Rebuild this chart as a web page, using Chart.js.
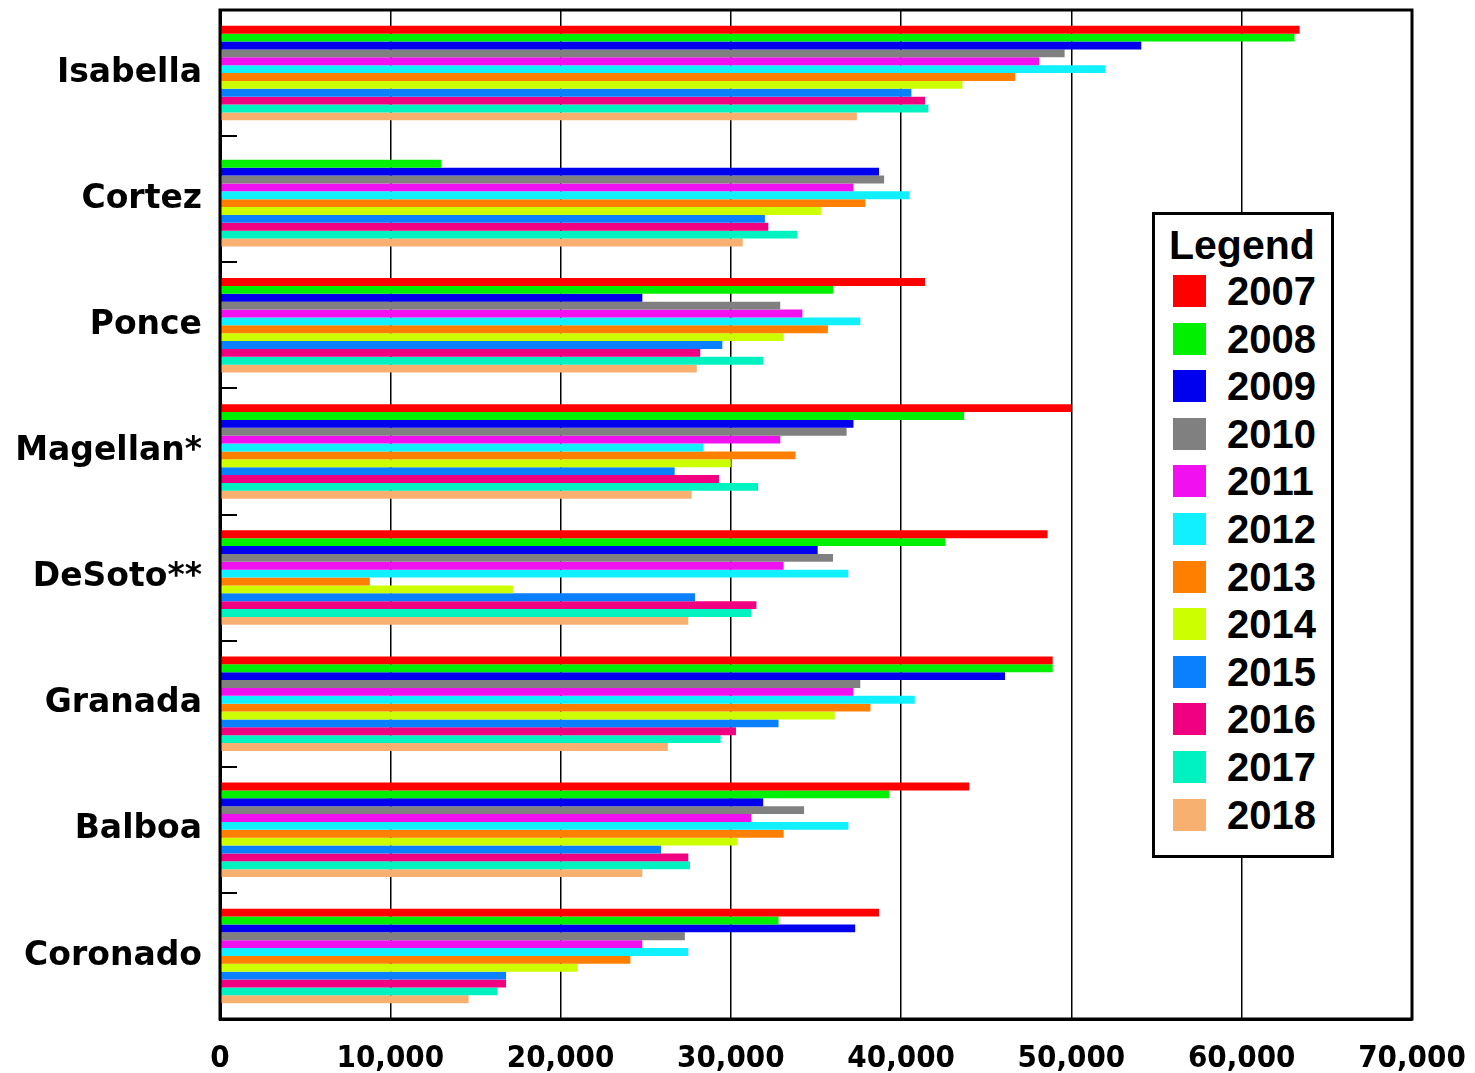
<!DOCTYPE html>
<html>
<head>
<meta charset="utf-8">
<script src="https://cdn.jsdelivr.net/npm/chart.js@4/dist/chart.umd.min.js"></script>
<style>
html, body { margin: 0; padding: 0; background: #fff; }
#wrap { position: relative; width: 1475px; height: 1073px; overflow: hidden; }
#c { position: absolute; left: 0; top: 0; }
#legend { position: absolute; left: 1152px; top: 212px; width: 182px; height: 646px; box-sizing: border-box;
  border: 3px solid #000; background: #fff; font-family: "Liberation Sans", Arial, sans-serif; color: #000; }
#legend .title { position: absolute; left: 14px; top: 10px; font-size: 41px; font-weight: bold; line-height: 40px; }
#legend .sw { position: absolute; left: 18px; width: 33px; height: 32px; }
#legend .lb { position: absolute; left: 72px; font-size: 40px; font-weight: bold; line-height: 32px; height: 32px; }
</style>
</head>
<body>
<div id="wrap">
  <canvas id="c" width="1475" height="1073"></canvas>
  <div id="legend"></div>
</div>
<script>
const categories = ['Isabella', 'Cortez', 'Ponce', 'Magellan*', 'DeSoto**', 'Granada', 'Balboa', 'Coronado'];
const years = ['2007', '2008', '2009', '2010', '2011', '2012', '2013', '2014', '2015', '2016', '2017', '2018'];
const xTicks = [0, 10000, 20000, 30000, 40000, 50000, 60000, 70000];

const v2007 = [63400, null, 41400, 50000, 48600, 48900, 44000, 38700];
const v2008 = [63100, 13000, 36000, 43700, 42600, 48900, 39300, 32800];
const v2009 = [54100, 38700, 24800, 37200, 35100, 46100, 31900, 37300];
const v2010 = [49600, 39000, 32900, 36800, 36000, 37600, 34300, 27300];
const v2011 = [48100, 37200, 34200, 32900, 33100, 37200, 31200, 24800];
const v2012 = [52000, 40500, 37600, 28400, 36900, 40800, 36900, 27500];
const v2013 = [46700, 37900, 35700, 33800, 8800, 38200, 33100, 24100];
const v2014 = [43600, 35300, 33100, 30000, 17200, 36100, 30400, 21000];
const v2015 = [40600, 32000, 29500, 26700, 27900, 32800, 25900, 16800];
const v2016 = [41400, 32200, 28200, 29300, 31500, 30300, 27500, 16800];
const v2017 = [41600, 33900, 31900, 31600, 31200, 29400, 27600, 16300];
const v2018 = [37400, 30700, 28000, 27700, 27500, 26300, 24800, 14600];

const seriesValues = [v2007, v2008, v2009, v2010, v2011, v2012, v2013, v2014, v2015, v2016, v2017, v2018];
const colors = ['#ff0000', '#00f000', '#0000ee', '#808080', '#f010f0', '#10f0ff', '#ff8000',
                '#ccff00', '#0a80ff', '#f00080', '#00f2c0', '#f8b070'];

const datasets = years.map((y, i) => ({
  label: y,
  data: seriesValues[i],
  backgroundColor: colors[i],
  borderWidth: 0,
  barPercentage: 1.0,
  categoryPercentage: 0.75
}));

const frame = {
  id: 'frame',
  afterDraw(chart) {
    const { ctx, chartArea: a, scales } = chart;
    const ys = scales.y;
    ctx.save();
    ctx.strokeStyle = '#000';
    ctx.lineWidth = 2;
    for (let i = 0; i < categories.length - 1; i++) {
      const yy = Math.round((ys.getPixelForTick(i) + ys.getPixelForTick(i + 1)) / 2);
      ctx.beginPath();
      ctx.moveTo(a.left, yy);
      ctx.lineTo(a.left + 17, yy);
      ctx.stroke();
    }
    ctx.lineWidth = 3;
    ctx.strokeRect(a.left, a.top, a.right - a.left, a.bottom - a.top);
    ctx.restore();
  }
};

const chart = new Chart(document.getElementById('c'), {
  type: 'bar',
  data: { labels: categories, datasets },
  options: {
    indexAxis: 'y',
    responsive: false,
    animation: false,
    devicePixelRatio: 1,
    layout: { padding: { left: 0, top: 10, right: 63, bottom: 0 } },
    plugins: { legend: { display: false }, tooltip: { enabled: false } },
    scales: {
      x: {
        type: 'linear',
        position: 'bottom',
        min: 0,
        max: 70000,
        z: 1,
        afterBuildTicks(scale) { scale.ticks = xTicks.map(v => ({ value: v })); },
        afterFit(scale) { scale.height = 54; scale.paddingLeft = 0; scale.paddingRight = 0; },
        grid: { color: '#000', lineWidth: 1.5, drawTicks: false },
        border: { display: true, color: '#000', width: 3 },
        ticks: {
          color: '#000',
          padding: 21,
          maxRotation: 0,
          font: { family: '"DejaVu Sans Condensed", "DejaVu Sans", sans-serif', weight: 'bold', size: 31 },
          callback: v => v.toLocaleString('en-US')
        }
      },
      y: {
        afterFit(scale) { scale.width = 220; scale.paddingTop = 0; scale.paddingBottom = 0; },
        grid: { display: false, drawTicks: false },
        border: { display: true, color: '#000', width: 3 },
        ticks: {
          color: '#000',
          padding: 18,
          font: { family: '"DejaVu Sans", sans-serif', weight: 'bold', size: 33 }
        }
      }
    }
  },
  plugins: [frame]
});

const leg = document.getElementById('legend');
const t = document.createElement('div');
t.className = 'title';
t.textContent = 'Legend';
leg.appendChild(t);
chart.data.datasets.forEach((ds, i) => {
  const top = 60 + i * 47.6;
  const sw = document.createElement('div');
  sw.className = 'sw';
  sw.style.top = top + 'px';
  sw.style.background = ds.backgroundColor;
  leg.appendChild(sw);
  const lb = document.createElement('div');
  lb.className = 'lb';
  lb.style.top = top + 'px';
  lb.textContent = ds.label;
  leg.appendChild(lb);
});
</script>
</body>
</html>
